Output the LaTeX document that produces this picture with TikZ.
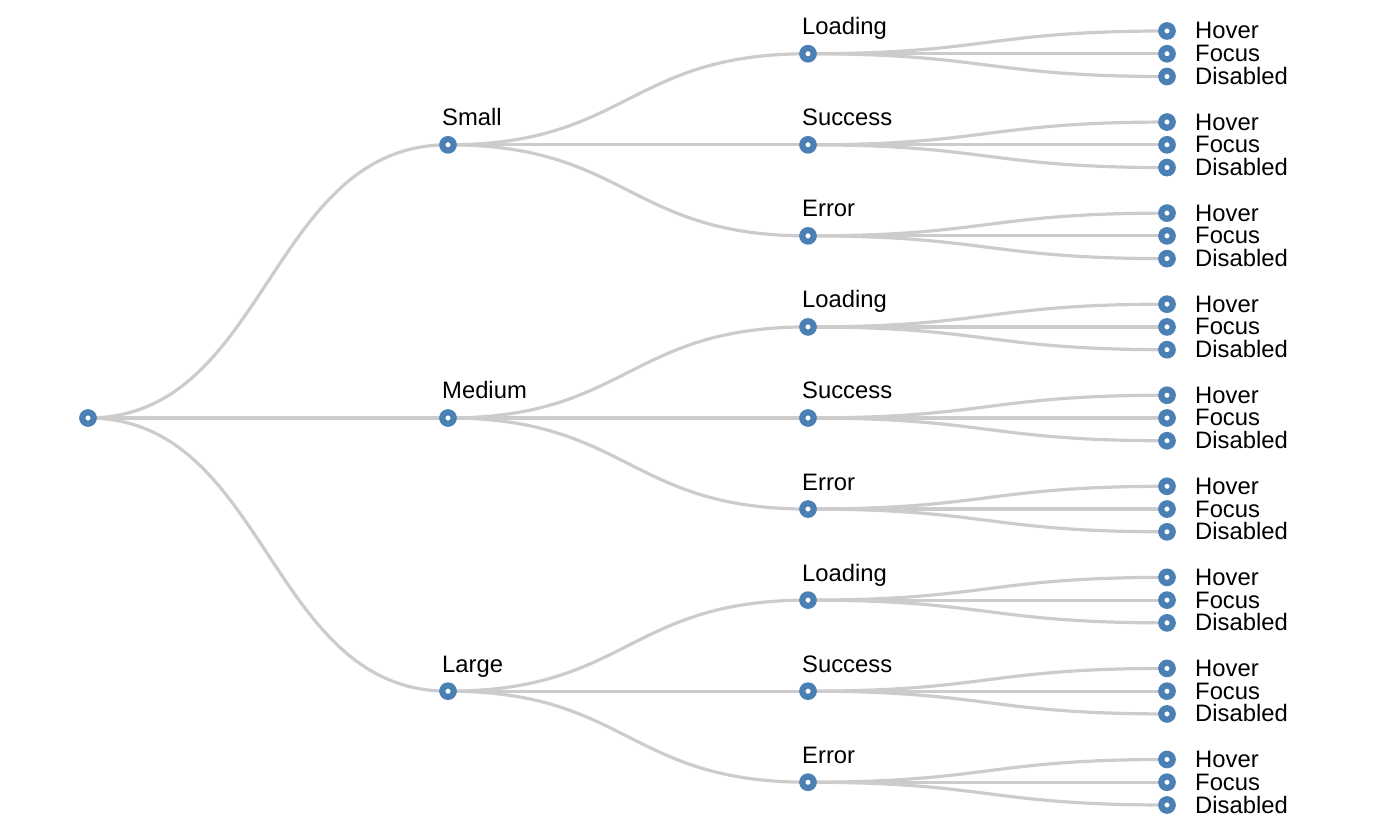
\documentclass[tikz,border=0pt]{standalone}
\usepackage{fontspec}
\setmainfont{Liberation Sans}
\usetikzlibrary{backgrounds}
\definecolor{steel}{HTML}{4A80B4}
\definecolor{linkgray}{HTML}{CCCCCC}

\begin{document}
\begin{tikzpicture}[x=1pt, y=1pt,
  dot/.style={circle, draw=steel, fill=white, line width=6.2pt, minimum size=11.4pt, inner sep=0pt},
  link/.style={draw=linkgray, line width=3.2pt},
  tag/.style={font=\fontsize{23.8}{28}\selectfont, inner sep=0pt, anchor=base west}]
\useasboundingbox (0,0) rectangle (1400,840);
\def\u{22.765}

\node[dot] (root) at (88,422) {};

\foreach \s [count=\i from 0] in {Small,Medium,Large} {
  \node[dot] (s\i) at (448,{422+\u*(12-12*\i)}) {};
  \node[tag] (s\i-tag) at ([shift={(-6,19)}]s\i.center) {\s};
  \begin{scope}[on background layer]
    \draw[link] (root.center) .. controls +(180,0) and +(-180,0) .. (s\i.center);
  \end{scope}
  \foreach \t [count=\j from 0] in {Loading,Success,Error} {
    \pgfmathtruncatemacro\g{3*\i+\j}
    \node[dot] (t\g) at (808,{422+\u*(16-4*\g)}) {};
    \node[tag] (t\g-tag) at ([shift={(-6,19)}]t\g.center) {\t};
    \begin{scope}[on background layer]
      \draw[link] (s\i.center) .. controls +(180,0) and +(-180,0) .. (t\g.center);
    \end{scope}
    \foreach \v [count=\k from 0] in {Hover,Focus,Disabled} {
      \node[dot] (l\g-\k) at ([shift={(359,{\u*(1-\k)})}]t\g.center) {};
      \node[tag] (l\g-\k-tag) at ([shift={(28,-8)}]l\g-\k.center) {\v};
      \begin{scope}[on background layer]
        \draw[link] (t\g.center) .. controls +(180,0) and +(-180,0) .. (l\g-\k.center);
      \end{scope}
    }
  }
}

\end{tikzpicture}
\end{document}
